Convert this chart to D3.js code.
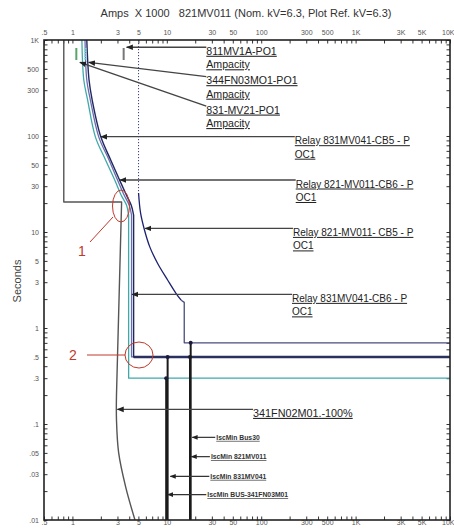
<!DOCTYPE html>
<html>
<head>
<meta charset="utf-8">
<script src="https://cdn.jsdelivr.net/npm/d3@7"></script>
<style>
  html, body { margin: 0; padding: 0; background: #fff; }
  svg { display: block; font-family: Arial, "Liberation Sans", sans-serif; }
</style>
</head>
<body>
<svg id="chart" width="454" height="529"></svg>
<script>
// ---------------- DATA ----------------
const titleText = "Amps  X 1000   821MV011 (Nom. kV=6.3, Plot Ref. kV=6.3)";
const yLabelText = "Seconds";

const xTickValues = [0.5, 1, 3, 5, 10, 30, 50, 100, 300, 500, 1000, 3000, 5000, 10000];
const xTickLabels = [".5", "1", "3", "5", "10", "30", "50", "100", "300", "500", "1K", "3K", "5K", "10K"];
const yTickValues = [1000, 500, 300, 100, 50, 30, 10, 5, 3, 1, 0.5, 0.3, 0.1, 0.05, 0.03, 0.01];
const yTickLabels = ["1K", "500", "300", "100", "50", "30", "10", "5", "3", "1", ".5", ".3", ".1", ".05", ".03", ".01"];

// Relay curves (amps x1000, seconds): curved part + definite-time part
const tealCurve  = [[1.26, 1000], [1.32, 383], [1.45, 237], [1.75, 98], [2.25, 56], [2.8, 35], [3.3, 24], [3.75, 19], [3.94, 15]];
const tealStep   = [[3.94, 15], [3.94, 0.3], [10000, 0.3]];
const slateCurve = [[1.36, 1000], [1.42, 383], [1.55, 237], [1.9, 98], [2.45, 56], [3.0, 35], [3.55, 24], [4.0, 19], [4.23, 15]];
const slateStep  = [[4.23, 15], [4.23, 0.5], [10000, 0.5]];
const navyCurve  = [[1.42, 1000], [1.5, 383], [1.62, 237], [2.0, 98], [2.55, 56], [3.15, 35], [3.75, 24], [4.2, 19], [4.45, 15]];
const navyStep   = [[4.45, 15], [4.45, 0.5], [10000, 0.5]];

// Relay 821-MV011-CB5
const cb5Dotted = [[5.02, 1000], [5.02, 25.5]];
const cb5Curve  = [[5.02, 25.5], [5.27, 15.8], [5.8, 10.5], [6.6, 7.0], [8.0, 4.7], [10.2, 3.16], [12.5, 2.3], [14.2, 1.95]];
const cb5Step   = [[14.2, 1.95], [15.3, 1.85], [15.3, 0.7], [10000, 0.7]];

// 341FN02M01 - 100% motor curve
const motorStep  = [[0.81, 1000], [0.81, 20.5], [3.32, 20.5], [2.93, 0.2]];
const motorCurve = [[2.93, 0.2], [2.93, 0.11], [3.09, 0.05], [3.67, 0.022], [4.6, 0.01]];

// Ampacity markers
const ampacityAmps   = [1.1, 1.37, 3.49];
const ampacityTop    = 825;
const ampacityBottom = 619;

// IscMin lines
const iscNames  = ["IscMin Bus30", "IscMin 821MV011", "IscMin 831MV041", "IscMin BUS-341FN03M01"];
const iscAmps   = [17.6, 17.9, 10.2, 9.85];
const iscTop    = [0.5, 0.7, 0.5, 0.3];
const iscArrowT = [0.0726, 0.0457, 0.0285, 0.0184];
const iscArrowX = [18.6, 18.2, 10.9, 10.2];
const iscLabelX = [32.6, 28.6, 28.2, 26.2];

// Curve annotations
const annLine1   = ["811MV1A-PO1", "344FN03MO1-PO1", "831-MV21-PO1", "Relay 831MV041-CB5 - P", "Relay 821-MV011-CB6 - P", "Relay 821-MV011- CB5 - P", "Relay 831MV041-CB6 - P", "341FN02M01.-100%"];
const annLine2   = ["Ampacity", "Ampacity", "Ampacity", "OC1", "OC1", "OC1", "OC1", ""];
const annTipAmps = [3.75, 1.49, 1.2, 2.0, 3.2, 5.9, 4.28, 3.0];
const annTipSec  = [840, 585, 585, 98.4, 34.8, 10.9, 2.24, 0.142];
const annTxtAmps = [26.2, 26.2, 26.2, 227, 232, 217, 212, 82];
const annTxtSec  = [840, 415, 205, 98.4, 34.8, 10.9, 2.24, 0.142];

// ---------------- DRAW ----------------
const svg = d3.select("#chart");
const x = d3.scaleLog().domain([0.5, 10000]).range([44, 450]);
const y = d3.scaleLog().domain([0.01, 1000]).range([520, 40]);

const defs = svg.append("defs");
defs.append("marker").attr("id", "arr").attr("viewBox", "0 0 10 10")
  .attr("refX", 9).attr("refY", 5).attr("markerWidth", 5).attr("markerHeight", 5)
  .attr("orient", "auto-start-reverse")
  .append("path").attr("d", "M0,1 L10,5 L0,9 z").attr("fill", "#222");
defs.append("clipPath").attr("id", "plotclip").append("rect")
  .attr("x", 44).attr("y", 40).attr("width", 406).attr("height", 480);

// Title
svg.append("text").attr("x", 246).attr("y", 17).attr("text-anchor", "middle")
  .attr("font-size", 11).attr("fill", "#333").attr("xml:space", "preserve")
  .style("white-space", "pre").text(titleText);

// Y label
svg.append("text").attr("transform", "translate(21,281) rotate(-90)")
  .attr("text-anchor", "middle").attr("font-size", 11).attr("fill", "#444").text(yLabelText);

// minor tick values
const minorX = [];
for (let e = -1; e <= 3; e++) for (let m = 1; m <= 9; m++) { const v = m * Math.pow(10, e); if (v >= 0.5 && v <= 10000) minorX.push(v); }
minorX.push(10000);
const minorY = [];
for (let e = -2; e <= 2; e++) for (let m = 1; m <= 9; m++) { const v = m * Math.pow(10, e); if (v >= 0.01 && v <= 1000) minorY.push(v); }
minorY.push(1000);

function styleAxis(g) {
  g.select(".domain").remove();
  g.selectAll("line").attr("stroke", "#333").attr("stroke-width", 1);
  g.selectAll("text").attr("fill", "#555").attr("font-size", 7);
}
function fixLastX(g) {
  g.selectAll(".tick").filter(d => d === 10000).select("text").attr("text-anchor", "end").attr("dx", "4");
}
const fmtX = v => { const i = xTickValues.indexOf(v); return i >= 0 ? xTickLabels[i] : ""; };
const fmtY = v => { const i = yTickValues.indexOf(v); return i >= 0 ? yTickLabels[i] : ""; };

// top
svg.append("g").attr("transform", "translate(0,40)")
  .call(d3.axisBottom(x).tickValues(minorX).tickSize(3.5).tickFormat(() => "")).call(styleAxis);
svg.append("g").attr("transform", "translate(0,40)")
  .call(d3.axisTop(x).tickValues(xTickValues).tickSize(0).tickPadding(5).tickFormat(fmtX)).call(styleAxis).call(fixLastX);
// bottom
svg.append("g").attr("transform", "translate(0,520)")
  .call(d3.axisTop(x).tickValues(minorX).tickSize(3.5).tickFormat(() => "")).call(styleAxis);
svg.append("g").attr("transform", "translate(0,519)")
  .call(d3.axisBottom(x).tickValues(xTickValues).tickSize(0).tickPadding(1.5).tickFormat(fmtX)).call(styleAxis).call(fixLastX);
// left
svg.append("g").attr("transform", "translate(44,0)")
  .call(d3.axisRight(y).tickValues(minorY).tickSize(3.5).tickFormat(() => "")).call(styleAxis);
svg.append("g").attr("transform", "translate(44,0)")
  .call(d3.axisLeft(y).tickValues(yTickValues).tickSize(0).tickPadding(5).tickFormat(fmtY)).call(styleAxis);
// right
svg.append("g").attr("transform", "translate(450,0)")
  .call(d3.axisLeft(y).tickValues(minorY).tickSize(3.5).tickFormat(() => "")).call(styleAxis);

const plot = svg.append("g").attr("clip-path", "url(#plotclip)");
const lineLin = d3.line().x(d => x(d[0])).y(d => y(d[1]));
const lineCurve = d3.line().x(d => x(d[0])).y(d => y(d[1])).curve(d3.curveCatmullRom.alpha(0.5));

function draw(data, gen, color, w, dash) {
  const p = plot.append("path").attr("d", gen(data)).attr("fill", "none")
    .attr("stroke", color).attr("stroke-width", w).attr("stroke-linejoin", "round");
  if (dash) p.attr("stroke-dasharray", dash);
  return p;
}

// Relay curves
draw(tealCurve, lineCurve, "#3fa9aa", 1.3);
draw(tealStep, lineLin, "#3fa9aa", 1.3);
draw(slateCurve, lineCurve, "#6b6bb0", 1.3);
draw(slateStep, lineLin, "#6b6bb0", 1.3);
draw(navyCurve, lineCurve, "#1f2860", 1.4);
draw(navyStep, lineLin, "#1f2860", 1.4);
plot.append("line").attr("x1", x(4.45)).attr("x2", x(10000)).attr("y1", y(0.5)).attr("y2", y(0.5))
  .attr("stroke", "#2a3060").attr("stroke-width", 2.5);

// CB5
draw(cb5Dotted, lineLin, "#3a3f80", 1, "1.2,1.8");
draw(cb5Curve, lineCurve, "#1c2170", 1.3);
draw(cb5Step, lineLin, "#4a4d7e", 1.3);

// motor curve
draw(motorStep, lineLin, "#555", 1.4);
draw(motorCurve, lineCurve, "#555", 1.4);

// ampacity markers
const ampColors = ["#55a66a", "#7fd3d0", "#777"];
ampacityAmps.forEach((a, i) => {
  plot.append("line").attr("x1", x(a)).attr("x2", x(a)).attr("y1", y(ampacityTop)).attr("y2", y(ampacityBottom))
    .attr("stroke", ampColors[i]).attr("stroke-width", i === 1 ? 2.5 : 2)
    .attr("stroke-dasharray", i === 1 ? "1.5,1" : null);
});

// IscMin lines
iscAmps.forEach((a, i) => {
  plot.append("line").attr("x1", x(a)).attr("x2", x(a)).attr("y1", y(iscTop[i])).attr("y2", y(0.01))
    .attr("stroke", "#1a1a1a").attr("stroke-width", 2);
  plot.append("circle").attr("cx", x(a)).attr("cy", y(iscTop[i])).attr("r", 2).attr("fill", "#1a1a3a");
  plot.append("line").attr("x1", x(iscLabelX[i])).attr("x2", x(iscArrowX[i]))
    .attr("y1", y(iscArrowT[i])).attr("y2", y(iscArrowT[i]))
    .attr("stroke", "#333").attr("stroke-width", 1.2).attr("marker-end", "url(#arr)");
  svg.append("text").attr("x", x(iscLabelX[i]) + 1).attr("y", y(iscArrowT[i]) + 2.5)
    .attr("font-size", 6.8).attr("font-weight", "bold").attr("fill", "#333")
    .attr("text-decoration", "underline").text(iscNames[i]);
});

// annotations
annLine1.forEach((t, i) => {
  const x0 = x(annTxtAmps[i]), y0 = y(annTxtSec[i]);
  svg.append("line").attr("x1", x0).attr("y1", y0).attr("x2", x(annTipAmps[i])).attr("y2", y(annTipSec[i]))
    .attr("stroke", "#444").attr("stroke-width", 1.4).attr("marker-end", "url(#arr)");
  const fs = i < 3 ? 10.6 : (i === 7 ? 10.8 : 10);
  svg.append("text").attr("x", x0).attr("y", y0 + 7.5).attr("font-size", fs).attr("fill", "#222")
    .attr("text-decoration", "underline").text(t);
  if (annLine2[i]) {
    svg.append("text").attr("x", x0).attr("y", y0 + 21).attr("font-size", fs).attr("fill", "#222")
      .attr("text-decoration", "underline").text(annLine2[i]);
  }
});

// frame
svg.append("rect").attr("x", 44).attr("y", 40).attr("width", 406).attr("height", 480)
  .attr("fill", "none").attr("stroke", "#222").attr("stroke-width", 1.6);

// red hand annotations
const red = "#c0392b";
svg.append("ellipse").attr("cx", 121).attr("cy", 206).attr("rx", 8.5).attr("ry", 16)
  .attr("fill", "none").attr("stroke", red).attr("stroke-width", 1);
svg.append("line").attr("x1", 113).attr("y1", 217).attr("x2", 90).attr("y2", 242)
  .attr("stroke", red).attr("stroke-width", 1);
svg.append("text").attr("x", 82).attr("y", 256).attr("text-anchor", "middle")
  .attr("font-size", 14).attr("fill", red).text("1");
svg.append("ellipse").attr("cx", 139).attr("cy", 355).attr("rx", 14).attr("ry", 13)
  .attr("fill", "none").attr("stroke", red).attr("stroke-width", 1);
svg.append("line").attr("x1", 87).attr("y1", 355).attr("x2", 125).attr("y2", 355)
  .attr("stroke", red).attr("stroke-width", 1);
svg.append("text").attr("x", 73).attr("y", 360).attr("text-anchor", "middle")
  .attr("font-size", 14).attr("fill", red).text("2");
</script>
</body>
</html>
